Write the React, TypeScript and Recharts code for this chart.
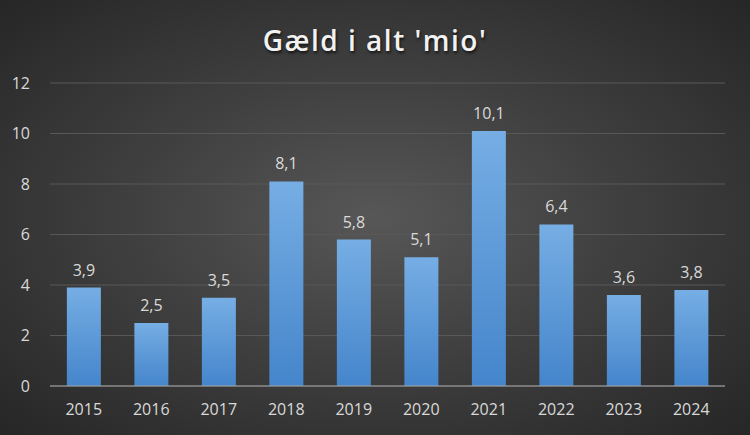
import React from "react";
import { BarChart, Bar, XAxis, YAxis, CartesianGrid, LabelList } from "recharts";

// data
const years = ["2015", "2016", "2017", "2018", "2019", "2020", "2021", "2022", "2023", "2024"];
const gaeld = [3.9, 2.5, 3.5, 8.1, 5.8, 5.1, 10.1, 6.4, 3.6, 3.8];
const yTicks = [0, 2, 4, 6, 8, 10, 12];

const data = years.map((aar, i) => ({ aar, gaeld: gaeld[i] }));

const fontFamily = "'Open Sans', 'Noto Sans', sans-serif";
const textColor = "#d9d9d9";

const fmt = (v: number) => String(v).replace(".", ",");

export default function App() {
  return (
    <div
      style={{
        position: "absolute",
        left: 0,
        top: 0,
        width: 750,
        height: 435,
        background: "radial-gradient(ellipse at 50% 50%, #575757 0%, #404040 45%, #262626 100%)",
        fontFamily,
      }}
    >
      <div
        style={{
          position: "absolute",
          top: 21,
          width: 750,
          textAlign: "center",
          color: "#f2f2f2",
          fontSize: 28,
          fontWeight: 600,
          letterSpacing: 1.5,
          textShadow: "1px 2px 3px rgba(0,0,0,0.7)",
        }}
      >
        Gæld i alt 'mio'
      </div>
      <BarChart
        width={750}
        height={435}
        data={data}
        margin={{ top: 83, right: 25, left: 0, bottom: 0 }}
        barCategoryGap="25%"
      >
        <defs>
          <linearGradient id="barFill" x1="0" y1="0" x2="0" y2="1">
            <stop offset="0%" stopColor="#76aee4" />
            <stop offset="100%" stopColor="#4585cb" />
          </linearGradient>
        </defs>
        <CartesianGrid vertical={false} stroke="#585858" strokeWidth={1} />
        <XAxis
          dataKey="aar"
          height={49}
          axisLine={{ stroke: "#a6a6a6", strokeWidth: 1 }}
          tickLine={false}
          tick={{ fill: textColor, fontSize: 16, fontFamily }}
          tickMargin={12}
        />
        <YAxis
          width={50}
          domain={[0, 12]}
          ticks={yTicks}
          axisLine={false}
          tickLine={false}
          tick={{ fill: textColor, fontSize: 16, fontFamily }}
          tickMargin={14}
        />
        <Bar dataKey="gaeld" fill="url(#barFill)" isAnimationActive={false}>
          <LabelList
            dataKey="gaeld"
            position="top"
            offset={12}
            formatter={(v: any) => fmt(Number(v))}
            style={{ fill: textColor, fontSize: 16, fontFamily }}
          />
        </Bar>
      </BarChart>
    </div>
  );
}
